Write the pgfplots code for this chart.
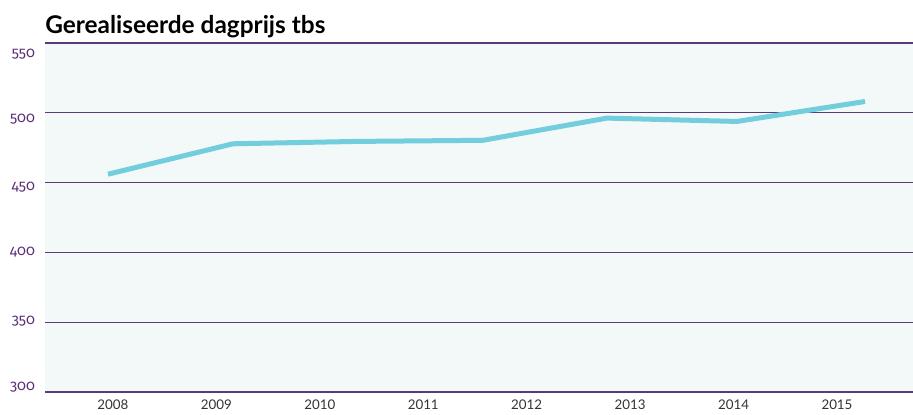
\documentclass[border=0pt]{standalone}
\usepackage{fontspec}
\setmainfont{Lato}
\newfontfamily\onumfont{Fira Sans}[Numbers=OldStyle]
\usepackage{pgfplots}
\pgfplotsset{compat=1.18}

\definecolor{bgc}{HTML}{F3F8F8}
\definecolor{gridc}{HTML}{5B3A7A}
\definecolor{linec}{HTML}{72CEDD}
\definecolor{labc}{HTML}{5A2E78}

\begin{document}
\begin{tikzpicture}[x=1pt,y=1pt]
\path[use as bounding box] (-33.75,-16.5) rectangle (651,294);
\begin{axis}[
    at={(0,0)}, anchor=south west,
    scale only axis, width=651pt, height=261.75pt,
    xmin=2007.343, xmax=2015.735,
    ymin=300, ymax=550,
    axis line style={draw=none},
    major tick length=0pt,
    axis background/.style={fill=bgc},
    ymajorgrids,
    grid style={gridc, line width=0.95pt},
    ytick={300,350,400,450,500,550},
    yticklabels={},
    extra y ticks={303.4,351.1,400.3,446.9,495.7,542.3},
    extra y tick labels={300,350,400,450,500,550},
    extra y tick style={grid=none,
        yticklabel style={text=labc, xshift=-4pt,
            font=\onumfont\fontsize{11}{12}\selectfont}},
    xtick={2008,2009,2010,2011,2012,2013,2014,2015},
    xticklabel style={/pgf/number format/1000 sep={}, text=black!80,
        font=\fontsize{10}{12}\selectfont, yshift=-2pt},
    /pgf/number format/assume math mode=true,
    clip=false,
]
% gerealiseerde dagprijs (euro)
\addplot[linec, line width=3.75pt] coordinates {
    (2007.952, 456.0) (2009.160, 477.8) (2010.359, 479.5) (2011.577, 480.3)
    (2012.776, 496.2) (2014.033, 493.8) (2015.271, 508.1)};
\end{axis}
\node[anchor=base west, inner sep=0pt, font=\bfseries\fontsize{18.3}{21}\selectfont]
    at (0,268.5) {Gerealiseerde dagprijs tbs};
\end{tikzpicture}
\end{document}
